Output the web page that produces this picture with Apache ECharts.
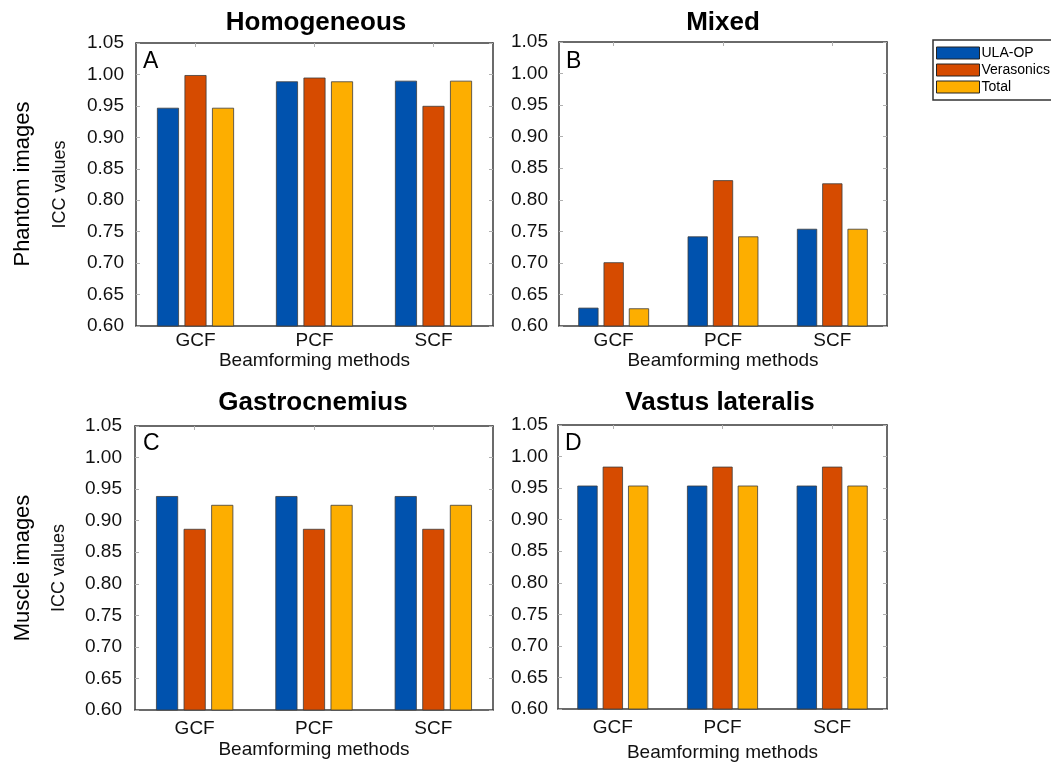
<!DOCTYPE html>
<html><head><meta charset="utf-8">
<script src="https://cdn.jsdelivr.net/npm/echarts@6/dist/echarts.min.js"></script>
<style>html,body{margin:0;padding:0;background:#fff}#c{width:1051px;height:763px}</style>
</head><body><div id="c"></div>
<script>
// ---- data ----
const categories = ['GCF', 'PCF', 'SCF'];
const seriesNames = ['ULA-OP', 'Verasonics', 'Total'];
const yMin = 0.60, yMax = 1.05, yStep = 0.05;
const panelTitles = ['Homogeneous', 'Mixed', 'Gastrocnemius', 'Vastus lateralis'];
const panelLetters = ['A', 'B', 'C', 'D'];
const rowLabels = ['Phantom images', 'Muscle images'];
const xAxisName = 'Beamforming methods';
const yAxisName = 'ICC values';

const homogeneousULA = [0.947, 0.989, 0.990];
const homogeneousVera = [0.999, 0.995, 0.950];
const homogeneousTotal = [0.947, 0.989, 0.990];

const mixedULA = [0.629, 0.742, 0.754];
const mixedVera = [0.701, 0.831, 0.826];
const mixedTotal = [0.628, 0.742, 0.754];

const gastroULA = [0.939, 0.939, 0.939];
const gastroVera = [0.887, 0.887, 0.887];
const gastroTotal = [0.925, 0.925, 0.925];

const vastusULA = [0.954, 0.954, 0.954];
const vastusVera = [0.984, 0.984, 0.984];
const vastusTotal = [0.954, 0.954, 0.954];

// ---- build ----
const panelData = [
  [homogeneousULA, homogeneousVera, homogeneousTotal],
  [mixedULA, mixedVera, mixedTotal],
  [gastroULA, gastroVera, gastroTotal],
  [vastusULA, vastusVera, vastusTotal]
];
const colors = ['#0052AE', '#D64B00', '#FDAE00'];
const FONT = '"Liberation Sans", Arial, sans-serif';
const grids = [
  {left: 136, top: 43, width: 357, height: 283},
  {left: 559, top: 42, width: 328, height: 284},
  {left: 135, top: 426, width: 358, height: 284},
  {left: 558, top: 425, width: 329, height: 285}
];
const xLabelMargin = [5, 5, 9, 9];
const xNameGap = [23, 25, 30, 34];
const yLabelMargin = [12, 11, 13, 10];
const boxLine = {show: true, lineStyle: {color: '#3a3a3a', width: 1.5}};
const innerTick = {show: true, inside: true, length: 4, alignWithLabel: true, lineStyle: {color: '#b0b0b0', width: 1}};

const xAxes = [], yAxes = [], series = [];
grids.forEach((g, i) => {
  xAxes.push({
    gridIndex: i, type: 'category', data: categories, position: 'bottom',
    axisLine: boxLine, axisTick: innerTick,
    axisLabel: {fontSize: 19, color: '#111', fontFamily: FONT, margin: xLabelMargin[i]},
    name: xAxisName, nameLocation: 'middle', nameGap: xNameGap[i],
    nameTextStyle: {fontSize: 19, color: '#111', fontFamily: FONT}
  });
  xAxes.push({
    gridIndex: i, type: 'category', data: categories, position: 'top',
    axisLine: boxLine, axisTick: innerTick, axisLabel: {show: false}
  });
  const yLeft = {
    gridIndex: i, type: 'value', min: yMin, max: yMax, interval: yStep, position: 'left',
    axisLine: boxLine, axisTick: innerTick, splitLine: {show: false},
    axisLabel: {fontSize: 19, color: '#111', fontFamily: FONT, margin: yLabelMargin[i],
      formatter: v => v.toFixed(2)}
  };
  if (i % 2 === 0) {
    Object.assign(yLeft, {name: yAxisName, nameLocation: 'middle', nameGap: 67, nameRotate: 90,
      nameTextStyle: {fontSize: 18, color: '#111', fontFamily: FONT}});
  }
  yAxes.push(yLeft);
  yAxes.push({
    gridIndex: i, type: 'value', min: yMin, max: yMax, interval: yStep, position: 'right',
    axisLine: boxLine, axisTick: innerTick, splitLine: {show: false}, axisLabel: {show: false}
  });
  panelData[i].forEach((vals, s) => {
    series.push({
      type: 'bar', name: seriesNames[s], xAxisIndex: 2 * i, yAxisIndex: 2 * i,
      data: vals, barWidth: '18.5%', barGap: '25%',
      itemStyle: {color: colors[s], borderColor: '#3d3d3d', borderWidth: 0.8},
      emphasis: {disabled: true}, animation: false
    });
  });
});

const titlePos = [[316, 23], [723, 23], [313, 403], [720, 403]];
const letterPos = [[143, 50], [566, 50], [143, 432], [565, 432]];
const graphics = [];
panelTitles.forEach((t, i) => {
  graphics.push({type: 'text', x: titlePos[i][0], y: titlePos[i][1],
    style: {text: t, font: 'bold 26px ' + FONT, fill: '#000', textAlign: 'center', textVerticalAlign: 'middle'}});
  graphics.push({type: 'text', x: letterPos[i][0], y: letterPos[i][1],
    style: {text: panelLetters[i], font: '23px ' + FONT, fill: '#000', textAlign: 'left', textVerticalAlign: 'top'}});
});
const rowPos = [[23, 184], [23, 568]];
rowLabels.forEach((t, i) => {
  graphics.push({type: 'text', x: rowPos[i][0], y: rowPos[i][1], rotation: Math.PI / 2,
    style: {text: t, font: '22px ' + FONT, fill: '#000', textAlign: 'center', textVerticalAlign: 'middle'}});
});

const chart = echarts.init(document.getElementById('c'), null, {renderer: 'canvas'});
chart.setOption({
  animation: false,
  backgroundColor: '#fff',
  grid: grids,
  xAxis: xAxes,
  yAxis: yAxes,
  series: series,
  legend: {
    data: seriesNames, orient: 'vertical', left: 933, top: 40,
    itemWidth: 43, itemHeight: 12, itemGap: 3, icon: 'rect',
    padding: [6, 12, 6, 3], borderColor: '#333', borderWidth: 1.5,
    itemStyle: {borderColor: '#222', borderWidth: 1},
    textStyle: {fontSize: 14, color: '#000', fontFamily: FONT, padding: [0, 0, 0, -3]},
    selectedMode: false
  },
  graphic: graphics
});
</script></body></html>
